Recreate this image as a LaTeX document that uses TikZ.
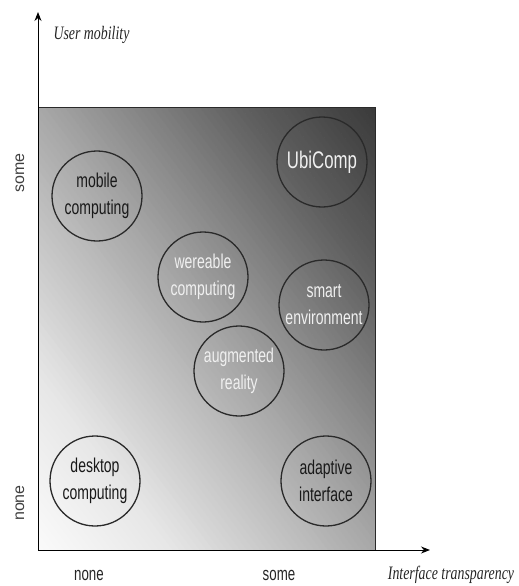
\documentclass[tikz,border=0pt]{standalone}
\usepackage{fontspec}
\setmainfont{Liberation Sans}
\newfontfamily\nsans[FakeStretch=0.70]{Liberation Sans}
\newfontfamily\wsans{Liberation Sans}
\newfontfamily\nserif[FakeStretch=0.73]{Liberation Serif}
\usetikzlibrary{arrows.meta}
\definecolor{edge}{HTML}{2A2A2A}
\tikzset{
  bubble/.style={circle, draw=edge, line width=1.3pt, minimum size=90pt, inner sep=0pt,
    align=center, font=\nsans\fontsize{20}{27}\selectfont},
  darktext/.style={text=black!90},
  lighttext/.style={text=white!94!black},
  axis/.style={line width=1pt, -{Stealth[length=9pt,width=7pt]}},
  ticklabel/.style={font=\nsans\fontsize{19}{22}\selectfont, text=black!85},
  sidelabel/.style={font=\wsans\fontsize{16}{18}\selectfont, text=black!75, rotate=90},
  axtitle/.style={font=\nserif\itshape\fontsize{19}{22}\selectfont, text=black!85}
}
\begin{document}
\begin{tikzpicture}[x=1pt,y=-1pt]
\useasboundingbox (0,0) rectangle (519,586);
% shaded field (diagonal gradient, light bottom-left to dark top-right)
\begin{scope}
\clip (38,107) rectangle (375,550);
\begin{scope}[shift={(206.5,328.5)}, rotate=37.3]
\foreach \i in {0,...,99}{
  \pgfmathsetmacro{\t}{(\i+0.5)/100}
  \pgfmathsetmacro{\xa}{-268.3+\i*5.366}
  \pgfmathsetmacro{\xb}{\xa+5.9}
  \pgfmathsetmacro{\g}{(\t<0.2 ? 251-21*\t/0.2 : (\t<0.5 ? 230-62*(\t-0.2)/0.3 : (\t<0.8 ? 168-72*(\t-0.5)/0.3 : 96-38*(\t-0.8)/0.2)))/255}
  \definecolor{stripc}{gray}{\g}
  \fill[stripc] (\xa,-420) rectangle (\xb,420);
}
\end{scope}
\end{scope}
\draw[line width=1pt, edge] (38,107) -- (375,107) -- (375,550);
% axes
\coordinate (o) at (38,550);
\coordinate (ytip) at (38,12);
\coordinate (xtip) at (430,550);
\draw[axis] (o) -- (ytip);
\draw[axis] (o) -- (xtip);
% axis titles
\node[axtitle, anchor=west] (ym) at (50,35) {User mobility};
\node[axtitle] (it) at (451,575) {Interface transparency};
% tick labels
\node[ticklabel] (xnone) at (89,575) {none};
\node[ticklabel] (xsome) at (279,575) {some};
\node[sidelabel] (ysome) at (20,173) {some};
\node[sidelabel] (ynone) at (20,503) {none};
% bubbles
\node[bubble, darktext] (mobile) at (97,196) {mobile\\computing};
\node[bubble, lighttext] (wear) at (203,277) {wereable\\computing};
\node[bubble, lighttext, font=\nsans\fontsize{24}{27}\selectfont] (ubi) at (322,162) {UbiComp};
\node[bubble, lighttext] (smart) at (324,305) {smart\\environment};
\node[bubble, lighttext] (aug) at (239,371) {augmented\\reality};
\node[bubble, darktext] (adapt) at (326,481) {adaptive\\interface};
\node[bubble, darktext] (desk) at (95,481) {desktop\\computing};
\end{tikzpicture}
\end{document}
